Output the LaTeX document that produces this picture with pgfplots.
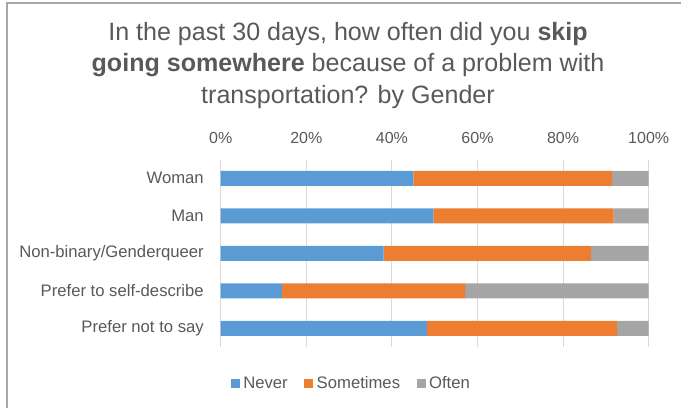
\documentclass[border=0pt]{standalone}
\usepackage{fontspec}
\setmainfont{Liberation Sans}
\usepackage{pgfplots}
\pgfplotsset{compat=1.18}
\definecolor{cNever}{HTML}{5B9BD5}
\definecolor{cSome}{HTML}{ED7D31}
\definecolor{cOften}{HTML}{A5A5A5}
\definecolor{txt}{HTML}{595959}
\definecolor{gridc}{HTML}{D9D9D9}
\definecolor{framec}{HTML}{A6A6AE}
\begin{document}
\begin{tikzpicture}
\path[use as bounding box] (0,0) rectangle (510.75pt,306pt);
\draw[framec, line width=1.5pt] (5.6pt,0) -- (5.6pt,304pt) -- (510.75pt,304pt);
\node[anchor=base, text=txt, font=\fontsize{18.8}{22}\selectfont, inner sep=0] at (261pt,275.6pt) {In the past 30 days, how often did you \textbf{skip}};
\node[anchor=base, text=txt, font=\fontsize{18.8}{22}\selectfont, inner sep=0] at (261pt,252pt) {\textbf{going somewhere} because of a problem with};
\node[anchor=base, text=txt, font=\fontsize{18.8}{22}\selectfont, inner sep=0] at (261pt,228.4pt) {transportation? by Gender};
\begin{axis}[
  at={(165.5pt,45.75pt)}, anchor=south west,
  width=321pt, height=140.55pt, scale only axis,
  xbar stacked, bar width=0.4,
  xmin=0, xmax=100, ymin=-0.5, ymax=4.5,
  axis line style={draw=none},
  xtick={0,20,40,60,80,100},
  xticklabels={0\%,20\%,40\%,60\%,80\%,100\%},
  xticklabel pos=upper,
  xmajorgrids, grid style={gridc, line width=0.75pt},
  major tick length=0,
  tick style={draw=none},
  xticklabel style={anchor=center, yshift=16.5pt, font=\fontsize{12}{14}\selectfont, text=txt},
  ytick={0,1,2,3,4},
  yticklabels={Prefer not to say, Prefer to self-describe\hspace{3pt}, Non-binary/Genderqueer, Man, Woman},
  yticklabel style={anchor=east, inner sep=0pt, xshift=-12.5pt, font=\fontsize{12.5}{14}\selectfont, text=txt},
  legend style={at={(0.307,-0.197)}, anchor=center, draw=none, fill=none,
    legend columns=3, font=\fontsize{12.5}{14}\selectfont, text=txt,
    /tikz/every even column/.append style={column sep=10pt},
    nodes={inner sep=2.5pt}},
  legend image code/.code={\fill[#1] (0pt,-3.375pt) rectangle (6.75pt,3.375pt);},
]
\addplot[fill=cNever, draw=none] coordinates {(48.2,0) (14.3,1) (38.1,2) (49.7,3) (45.0,4)};
\addplot[fill=cSome, draw=none] coordinates {(44.4,0) (42.8,1) (48.4,2) (42.1,3) (46.4,4)};
\addplot[fill=cOften, draw=none] coordinates {(7.4,0) (42.9,1) (13.5,2) (8.2,3) (8.6,4)};
\legend{Never, Sometimes, Often}
\end{axis}
\end{tikzpicture}
\end{document}
